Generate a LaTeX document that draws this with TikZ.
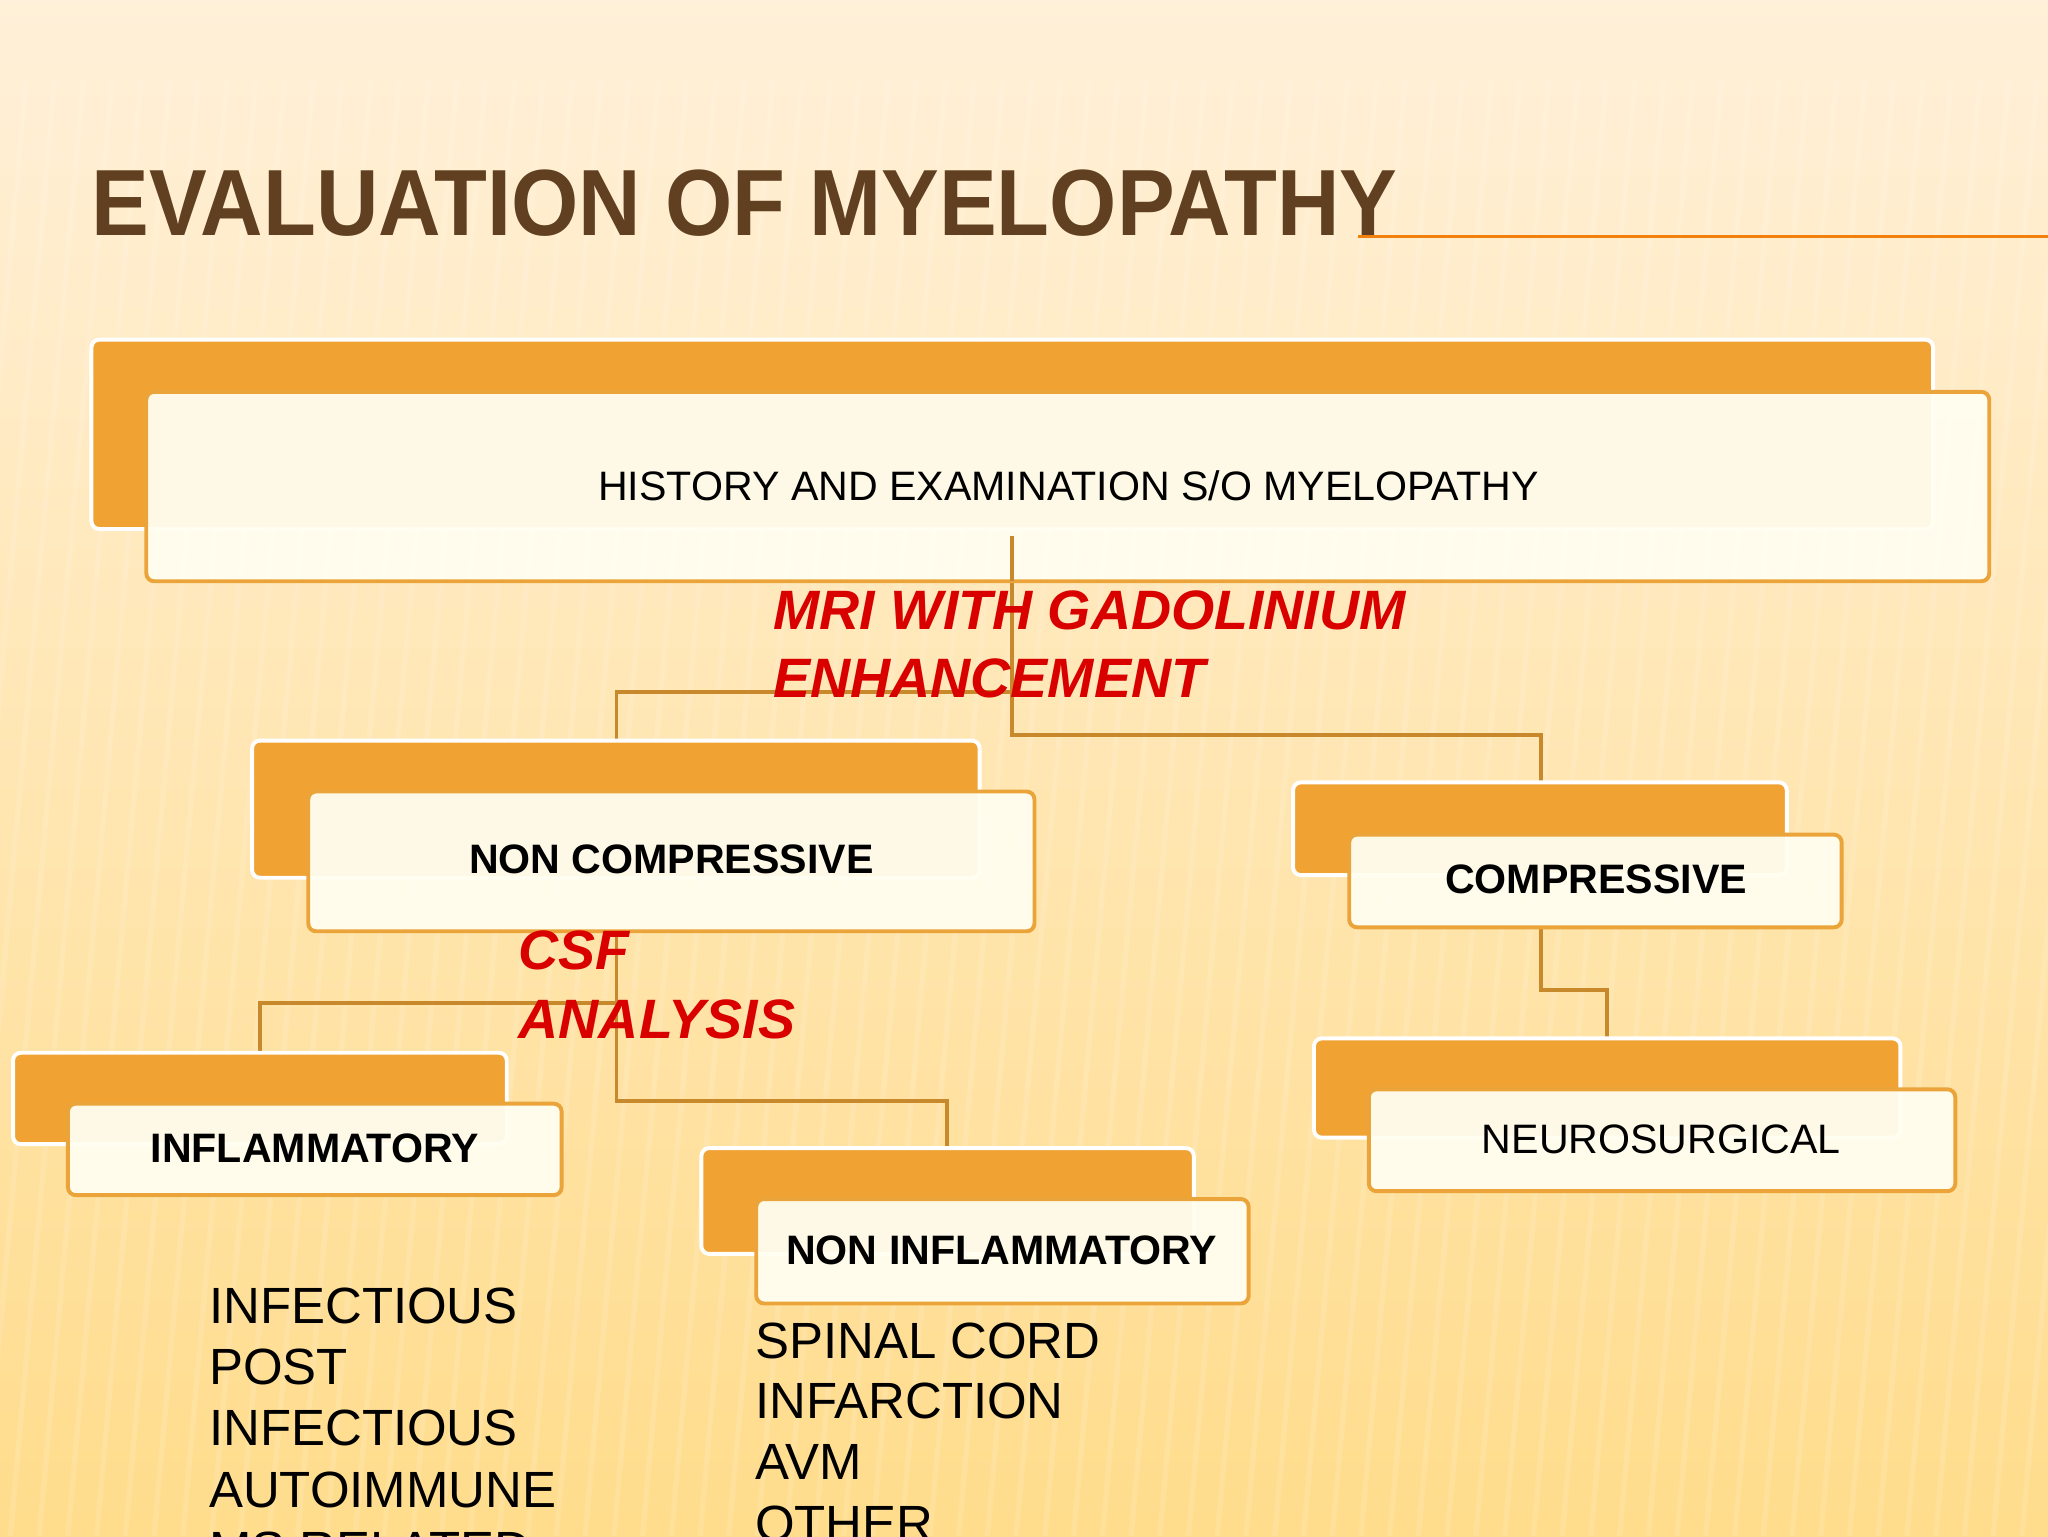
\documentclass[tikz,border=0pt]{standalone}
\usepackage{fontspec}
\setmainfont{Liberation Sans}
\definecolor{bkor}{HTML}{F0A232}
\definecolor{bdor}{HTML}{EBA43A}
\definecolor{cnor}{HTML}{C8882C}
\begin{document}
\begin{tikzpicture}[x=1pt,y=-1pt,
 back/.style={draw=white,line width=3pt,fill=bkor,rounded corners=6pt},
 front/.style={draw=bdor,line width=3pt,fill=white!94!yellow,rounded corners=6pt,fill opacity=0.95},
 conn/.style={draw=cnor,line width=3pt},
 btxt/.style={font=\fontsize{31.5}{34}\selectfont\bfseries},
 rtxt/.style={font=\fontsize{31.5}{34}\selectfont},
 red/.style={text=red!85!black,font=\fontsize{42.5}{50}\selectfont\bfseries\itshape,anchor=base west,inner sep=0},
 lst/.style={font=\fontsize{39}{46}\selectfont,anchor=base west,inner sep=0}]
\clip (0,0) rectangle (1568,1176);
\useasboundingbox (0,0) rectangle (1568,1176);
\shade[top color=yellow!20!orange!15!white, bottom color=yellow!40!orange!45!white] (0,0) rectangle (1568,1176);
\foreach \i in {0,...,90} { \draw[white,opacity=0.12,line width=4pt] (\i*22-300,1176) -- (\i*22-200,60); }
\draw[orange!80!brown,line width=2pt] (1040,181) -- (1568,181);
\node[anchor=base west,inner sep=0,text=brown!50!black,font=\fontsize{72}{80}\selectfont\bfseries] (title) at (70,180) {\scalebox{0.92}[1]{EVALUATION OF MYELOPATHY}};
% connectors
\coordinate (t) at (775,410);
\draw[conn] (t) |- (1180,563) -- (1180,599);
\draw[conn] (775,530) -| (472,567);
\draw[conn] (472,713) |- (725,843) -- (725,879);
\draw[conn] (472,768) -| (199,806);
\draw[conn] (1180,710) |- (1230,758) -- (1230,795);
% boxes
\draw[back] (70,260) rectangle (1480,405);
\draw[front] (112,300) rectangle (1523,445);
\node[rtxt] (top) at (818,372) {HISTORY AND EXAMINATION S/O MYELOPATHY};
\draw[conn] (775,410) -- (775,445);
\draw[back] (193,567) rectangle (750,672);
\draw[front] (236,606) rectangle (792,713);
\node[btxt] (nc) at (514,658) {NON COMPRESSIVE};
\draw[back] (990,599) rectangle (1368,670);
\draw[front] (1033,639) rectangle (1410,710);
\node[btxt] (c) at (1222,673) {COMPRESSIVE};
\draw[back] (10,806) rectangle (388,876);
\draw[front] (52,845) rectangle (430,915);
\node[btxt] (inf) at (241,879) {INFLAMMATORY};
\draw[back] (537,879) rectangle (914,960);
\draw[front] (579,918) rectangle (956,998);
\node[btxt] (ninf) at (767,957) {NON INFLAMMATORY};
\draw[back] (1006,795) rectangle (1455,871);
\draw[front] (1048,834) rectangle (1497,912);
\node[rtxt] (ns) at (1272,872) {NEUROSURGICAL};
% red
\node[red] (m1) at (592,482) {MRI WITH GADOLINIUM};
\node[red] (m2) at (592,534) {ENHANCEMENT};
\node[red] (c1) at (397,742) {CSF};
\node[red] (c2) at (397,795) {ANALYSIS};
% lists
\node[lst] (l1) at (160,1013) {INFECTIOUS};
\node[lst] (l2) at (160,1060) {POST};
\node[lst] (l3) at (160,1107) {INFECTIOUS};
\node[lst] (l4) at (160,1154) {AUTOIMMUNE};
\node[lst] (l5) at (160,1200) {MS RELATED};
\node[lst] (r1) at (578,1040) {SPINAL CORD};
\node[lst] (r2) at (578,1086) {INFARCTION};
\node[lst] (r3) at (578,1133) {AVM};
\node[lst] (r4) at (578,1180) {OTHER};
\end{tikzpicture}
\end{document}
